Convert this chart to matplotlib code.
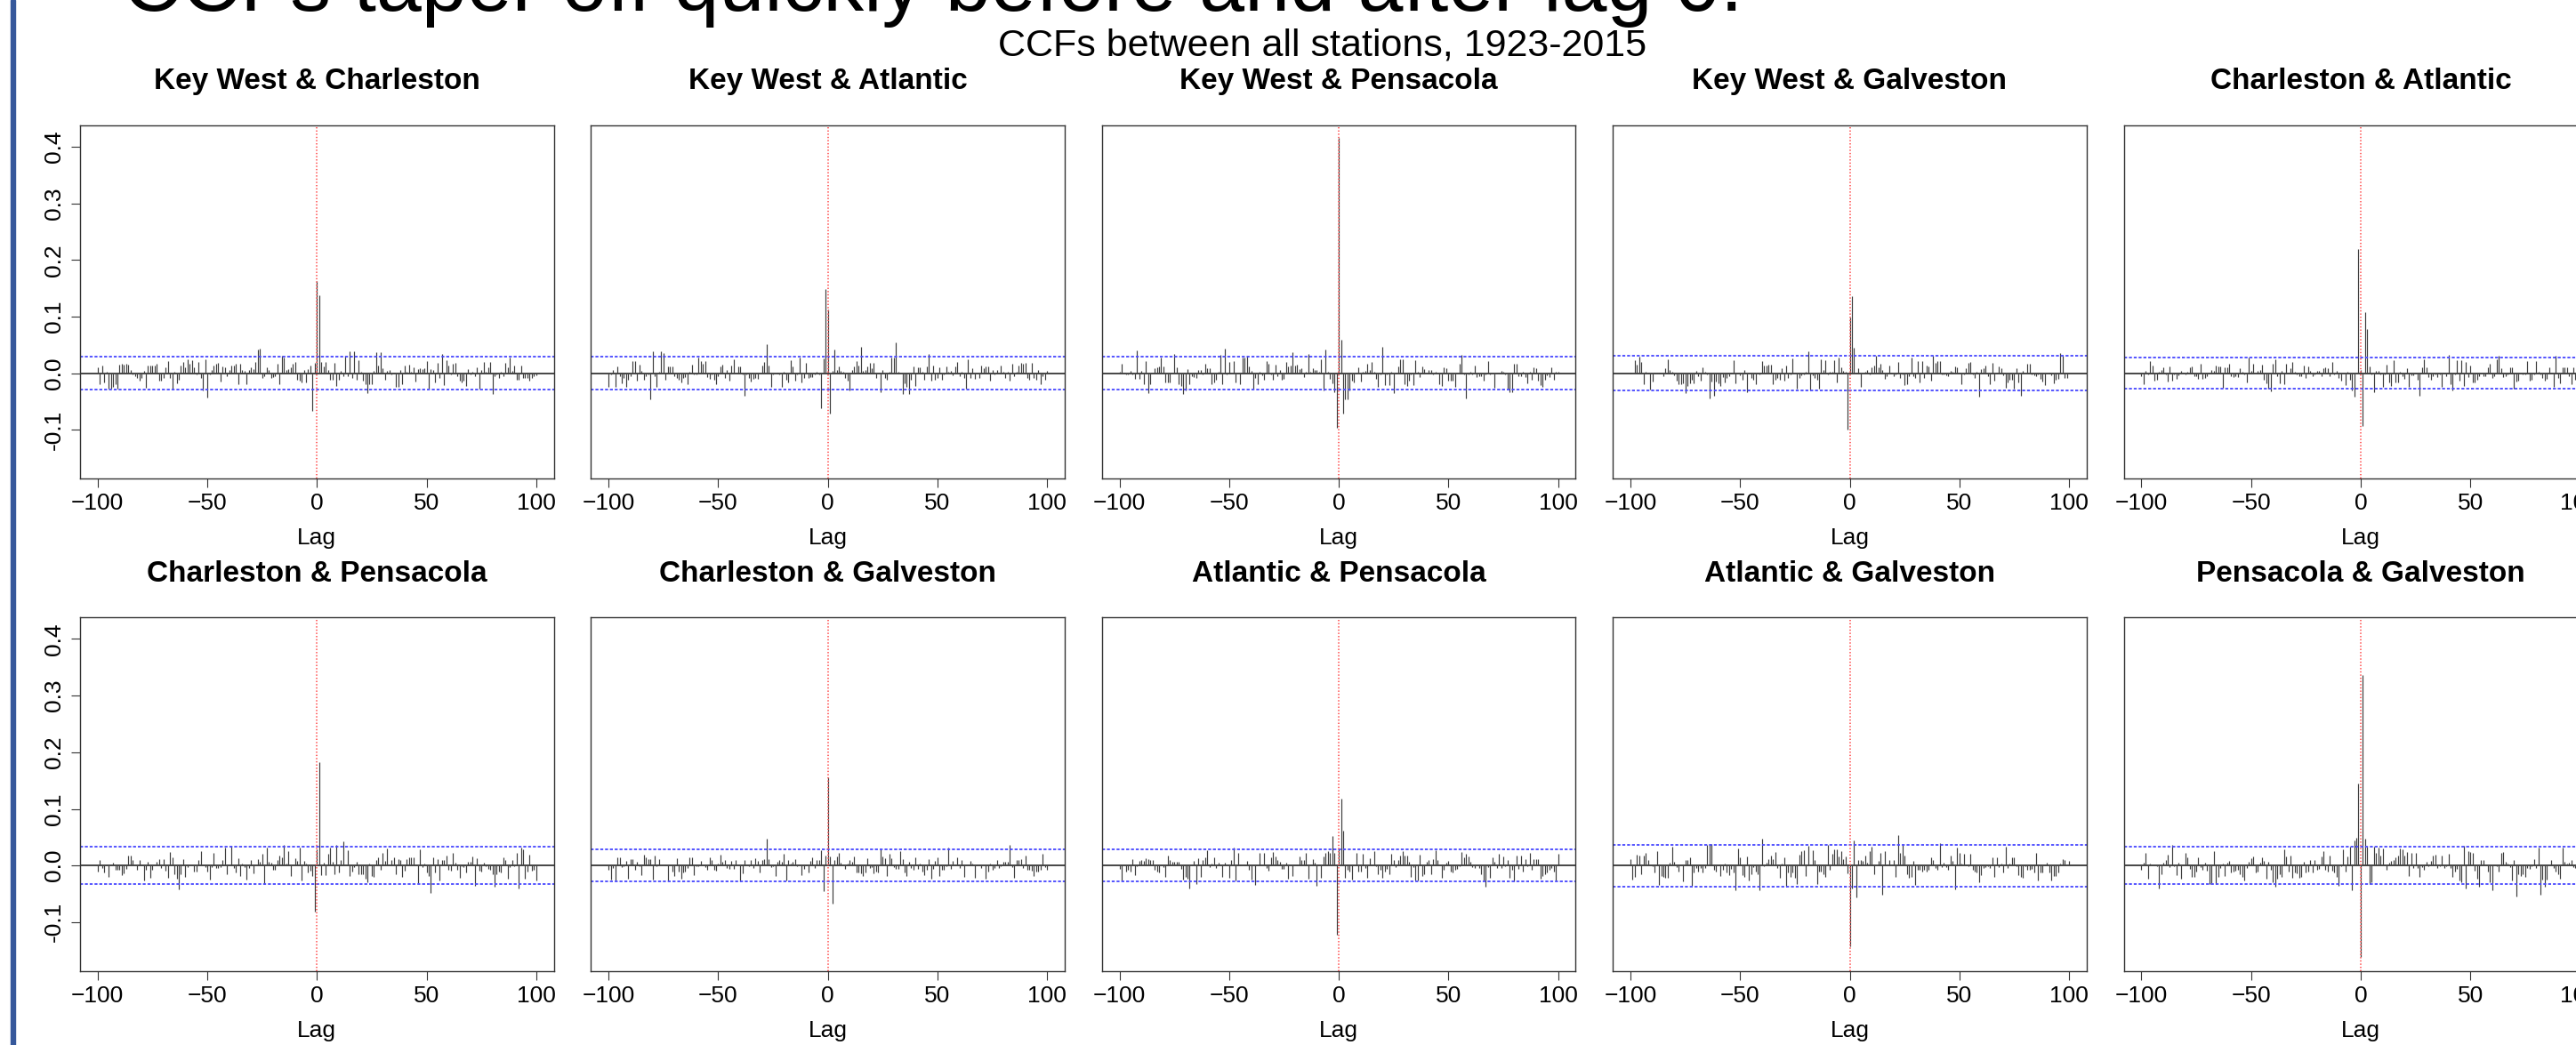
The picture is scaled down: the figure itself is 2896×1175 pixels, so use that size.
import numpy as np
import matplotlib
matplotlib.use('Agg')
from matplotlib import pyplot as plt
from matplotlib.patches import Rectangle

plt.rcParams['font.family'] = ['Liberation Sans', 'DejaVu Sans']
plt.rcParams['lines.scale_dashes'] = False

# lags -100..100, values in thousandths
lags = np.arange(-100, 101)

kw_charleston = [
    10, -19, 14, -17, 2, -27, -27, -24, -19, -27,
    15, 16, 15, 16, 15, 6, -3, -6, -8, -14,
    -8, 4, -26, 13, 14, 13, 13, 17, -14, -14,
    -8, 11, 22, -8, -28, 3, -18, -11, 14, 20,
    11, 24, 16, 23, 10, -3, 20, -8, -30, 24,
    -43, -3, 5, 13, 16, 18, -15, 12, 11, -5,
    6, 13, 14, 16, -20, 16, 5, 4, -19, 6,
    10, 7, 20, 42, 43, -8, -6, 11, 6, -8,
    -7, -5, 17, -20, 31, 27, 5, 7, 11, 16,
    20, -11, -14, -16, 5, -17, 7, 13, -67, 18,
    163,
    137, 20, 12, 20, 5, -11, -11, 18, -22, -11,
    4, -5, 30, -6, 39, -9, 39, -11, 23, 2,
    -14, -19, -36, -19, -20, 4, 37, 14, 37, 8,
    -11, 4, 5, -3, 1, -24, -24, 5, -20, 13,
    2, 15, 2, 10, -15, 7, 9, 7, 9, 21,
    -27, 7, 5, -16, 18, -8, 34, -21, 23, 13,
    -2, 16, 18, -6, -14, -16, -14, -22, 7, -3,
    2, -5, 11, -28, 6, 20, 2, 10, 19, -37,
    -5, -3, -8, 3, -6, 18, 10, 27, 4, 14,
    -11, -11, 14, -8, -9, -8, -14, -9, -5, -4]

kw_atlantic = [
    -24, -3, 6, -24, 12, -6, -18, -8, -25, -12,
    -6, 22, 22, -14, 15, 4, -12, -5, -2, -46,
    39, -6, -24, 2, 38, 35, -12, 12, 12, 12,
    -6, -8, -12, -16, -9, -7, -20, 3, 15, -3,
    -2, 28, 22, 17, 22, -7, -10, -2, -12, -20,
    -6, 12, 15, -8, 6, -14, 14, 24, 0, 12,
    12, -3, -40, -3, -9, -15, -10, -9, -10, -1,
    13, 20, 51, 14, -24, -3, -1, 1, -2, -24,
    2, -11, -17, 23, 12, -14, -2, 27, -17, -9,
    18, -9, -7, -7, -3, 2, -3, -62, 26, 148,
    113,
    -71, 4, 42, 6, 12, 4, 2, -8, -14, -31,
    6, 12, 22, 14, 46, 4, 6, 12, 18, 8,
    18, -9, -1, -33, 6, -8, -12, 2, 27, 27,
    55, 2, 0, -37, -18, -24, -37, -12, 12, -22,
    10, 10, 3, -12, 12, 34, -14, 13, -12, -8,
    10, -12, -2, 12, 2, 4, -4, 12, 19, -6,
    2, -8, -28, 24, -9, 9, -10, 0, -8, 14,
    8, 12, 12, -13, 5, -3, 6, -1, 13, 2,
    -9, 2, -14, 17, -6, 2, 14, 18, 17, 18,
    -8, -12, 18, -8, -12, 6, -20, -6, -12, 4]

kw_pensacola = [
    3, 16, 1, -2, -3, 4, -2, -10, 40, -10,
    4, -20, 21, -36, -20, 0, 8, 11, 12, 28,
    12, -17, -17, -16, 0, 34, 10, -20, -23, -37,
    -30, 7, -20, -5, -7, -9, 5, 5, -3, 17,
    9, 9, -20, -16, -12, 3, 32, -19, 43, -3,
    19, 0, 22, -17, 0, -20, 28, 28, 31, 12,
    4, -27, -8, -20, 2, -4, -12, 22, 16, -3,
    -12, 15, -5, 5, -12, -10, 19, 12, 14, 37,
    14, 15, 7, 9, -7, 2, 34, 2, 9, 6,
    5, 3, 25, -30, 41, 2, -10, -18, -33, -96,
    415,
    59, -71, -46, -46, -30, -14, -17, 1, 11, -15,
    3, 4, 16, 5, 19, 2, -10, -25, -3, 46,
    -21, -2, -21, 3, -36, 1, 12, 24, 24, -20,
    -23, -14, -2, -21, 23, 2, -7, 12, 7, 0,
    5, 5, -3, 2, 0, -19, -22, 10, 8, -14,
    -14, -13, -24, -1, 16, 32, -3, -45, -3, 3,
    -3, 13, -7, -5, -6, -14, -3, 21, -3, -1,
    -26, 0, -1, 4, 3, -3, -28, -33, -33, 17,
    16, -6, -5, 3, -7, -18, 3, -12, 11, 9,
    -13, -21, -24, -12, -4, -7, 10, -11, 2, 3]

kw_galveston = [
    1, 0, 23, 15, 29, 20, -20, 2, 1, -29,
    -15, 1, 1, 1, 0, -5, 9, 24, 6, 3,
    -4, -13, -19, -20, -18, -36, -23, -18, -12, -18,
    4, -5, -14, 11, 2, -2, -44, -15, -40, -15,
    -18, -22, -7, -17, -8, -5, 1, 23, -18, -1,
    -4, -12, 6, -34, -1, -8, -12, -19, -1, -2,
    22, 14, 14, 15, 15, -20, -12, -9, -12, 9,
    -13, 13, -8, -2, 26, -1, -28, -8, -4, -3,
    3, 39, -31, -4, -8, -12, -28, 24, 5, 23,
    -2, 3, 2, 23, -17, 28, 11, 4, 2, -100,
    98,
    136, 45, 1, 8, -25, 0, 3, 5, -2, 10,
    13, 30, 10, 17, 5, -10, -5, 14, 1, -5,
    -2, 19, -9, -2, -21, -19, -5, 28, -6, -9,
    21, -17, 22, -8, 14, 12, -14, 30, 18, 22,
    22, -2, -2, -4, -5, 4, 3, 12, 11, 1,
    -19, -3, 9, 18, 19, -3, -9, 3, -41, 7,
    9, 14, -6, -19, 18, -14, 1, 12, 9, -4,
    -26, -17, -12, -12, -28, 8, -16, -40, 4, -1,
    17, 17, -2, -4, -5, -3, -10, -15, -21, -1,
    1, -4, -18, -12, -10, 35, 31, -9, -9, 0]

ch_atlantic = [
    -6, -20, 4, -3, 22, 13, -14, -11, 2, 6,
    10, -3, -15, 12, -14, -3, -10, -4, 4, 1,
    -3, 3, 10, 12, -5, -6, -10, 16, -10, -9,
    -5, 1, 6, 4, 13, 12, 12, -26, 10, 10,
    16, -6, -7, -6, -7, 8, 2, -3, -17, 28,
    4, 16, 0, 4, 6, 15, -12, -18, -27, -32,
    16, 24, -6, -18, 4, -19, 17, 1, 8, 19,
    3, -3, -6, -5, 13, -9, 12, 4, -6, -2,
    4, 4, -6, 8, 10, 8, -6, 20, -3, 4,
    -8, -14, 0, -21, 3, -11, -30, -41, 0, 220,
    5,
    -94, 107, 78, 12, -2, -34, 4, 4, -2, -24,
    -3, 15, -16, -22, 23, -16, -16, 3, -5, -10,
    9, -25, -4, -4, 0, -12, -40, 11, 25, 10,
    -7, -12, -5, -3, -7, -3, -24, -1, -5, 32,
    -19, -30, -2, 23, -13, 23, -22, 20, -7, 14,
    -16, -16, -12, -5, -1, -6, -6, 10, 17, -8,
    -6, 25, 31, 8, -7, -6, -2, 10, 10, -27,
    -15, -13, 0, -2, -3, 21, -14, -11, -3, 21,
    3, -3, -9, -13, -10, 11, 1, -25, 31, -9,
    -18, 10, 10, 10, -5, -20, 10, -11, 5, 15]

ch_pensacola = [
    -10, 10, -5, -12, 2, -20, 2, 5, -7, -7,
    -7, -17, -14, -6, 17, 17, 10, 1, -8, 9,
    2, -26, -8, 7, -22, -7, 0, 6, 12, -4,
    11, -9, -22, 24, 15, -16, -23, -42, -15, 12,
    -20, -3, 0, 0, -10, -10, 10, 26, 1, -3,
    -10, -25, -3, 22, -4, -4, -3, 10, 31, -16,
    1, 35, -5, -13, 13, -18, 3, -3, -25, -4,
    10, -14, 0, 11, 6, 20, -32, 31, 6, 5,
    -8, -8, 9, 17, 15, 37, 3, 25, -19, 1,
    13, 8, 31, -27, 8, 3, -12, -9, -19, -81,
    28,
    183, -17, 5, -17, 20, 31, 7, -15, 37, -12,
    10, 42, 0, 27, -19, -10, -3, 6, -15, -16,
    -15, -24, -30, 4, -18, -20, 9, 15, -8, 23,
    8, 30, 2, 9, 14, -15, 12, 9, -20, -9,
    11, 14, 14, 14, 1, -31, 28, -3, 3, -12,
    -18, -48, 15, -12, 11, -27, 9, 9, 17, -7,
    -9, 22, 5, -8, -22, -1, -3, -12, 7, 7,
    16, -36, 13, -9, -10, 5, -2, -6, -7, -15,
    -37, -15, -10, -12, 15, 9, -24, -3, 9, -2,
    22, -40, 32, 29, -23, -11, 19, -9, -7, -27]

ch_galveston = [
    -8, -25, -5, -27, 15, 15, -3, -2, 8, -24,
    12, 11, -8, 7, -2, -17, 19, 14, 12, 12,
    -25, 17, -2, 12, 0, 0, 2, -27, 2, -10,
    -18, 13, -11, -24, -13, -10, -5, 15, 15, -17,
    -2, -2, 8, 0, -3, -7, 14, 9, -7, -9,
    3, 19, 6, 9, -5, -6, 8, -6, 9, 0,
    -28, -14, 10, 0, -2, 10, -4, 13, 8, -12,
    9, 12, 48, 12, -3, -2, -18, 6, 9, 6,
    20, -26, 9, 4, 7, 12, -2, 1, -17, -6,
    2, -12, 8, 15, -5, 9, 9, 27, -45, 18,
    155,
    16, -68, 10, 16, 22, 5, 1, -6, 3, 9,
    7, 16, -12, -12, -14, -18, -12, 13, -5, -3,
    -14, -10, -12, 29, 16, 13, -19, 21, 13, -3,
    -6, -6, 25, 12, -12, -18, 7, -4, -8, 14,
    -6, 3, -10, -17, -8, 12, -24, -6, 8, 15,
    -18, -8, -8, -2, 31, -6, 8, 2, 15, -4,
    9, -20, 0, 1, 8, 3, -22, 2, 2, -5,
    1, -23, -10, 3, -8, -4, 10, -5, -2, 7,
    6, 7, 36, -3, -22, 9, 10, 11, -5, 17,
    -7, -8, -9, -18, -10, -10, -8, 21, -3, -7]

at_pensacola = [
    -6, -27, 0, -10, -8, -10, 12, -17, -2, 8,
    9, 8, 13, 12, 9, 10, -7, -11, -12, 2,
    -3, -20, 18, 10, 7, 7, 7, 7, -6, -25,
    -20, -23, -40, 2, 8, -32, 13, -20, 9, 15,
    27, -3, 4, 14, -5, 5, 2, -20, 5, 0,
    -22, 9, 32, -27, 22, 2, 0, 2, 8, -7,
    -25, 0, -35, 2, 22, 1, 22, -4, -9, 15,
    24, 16, 10, 6, -6, -6, 5, -23, 0, -19,
    0, 2, 16, 9, 10, 23, -23, 0, 12, 5,
    -36, 0, -22, 16, 23, 26, 23, 52, 23, -122,
    30,
    118, 61, -21, -8, -10, -25, 0, 23, -10, -10,
    21, -4, -22, 13, 2, 25, -1, -15, -8, -22,
    -11, -6, -15, 21, 9, -3, 10, 18, 26, 18,
    17, 7, -20, -3, -27, -27, 19, -18, -15, 6,
    10, -16, 11, 27, 10, 1, -21, -7, 5, 8,
    -10, -12, -8, -6, -1, 24, 14, 20, 16, 6,
    -3, -5, 0, -4, -15, -27, -38, -3, -22, 15,
    7, -5, 21, -5, 16, -1, 9, -22, -8, -28,
    17, -6, 17, -11, 12, -1, 23, -7, 12, 12,
    12, -24, -18, -15, -12, -8, -5, -10, -27, 20]

at_galveston = [
    12, -25, -20, 19, 17, -15, 18, 23, 10, 0,
    -2, -12, 25, -35, -18, -20, -22, -22, 5, 33,
    6, -3, -10, 0, -28, 9, 9, 15, -36, -12,
    -5, -10, -5, -12, -5, 37, 38, 38, -8, -10,
    2, -18, -7, 3, -12, -17, -6, -12, -43, 30,
    15, -17, -20, 16, -26, -15, -3, -10, -15, -44,
    47, -2, 5, 12, 18, 11, 24, -4, -22, 4,
    15, -37, -12, -20, -13, -22, -33, 19, 25, 27,
    -19, 35, 2, 27, 10, -33, -10, -10, -15, -20,
    37, -8, 21, 28, 29, 16, 25, 12, 16, -14,
    -142,
    -40, 45, -57, 9, 9, 8, 17, 5, 25, 34,
    -15, 1, 8, 22, -52, 26, 0, 10, 0, 10,
    -20, 53, 22, 37, 18, -15, -22, -20, 8, -35,
    -8, -8, -10, -8, -10, -8, 15, 10, -5, -8,
    40, -3, 5, -3, -8, 17, 8, -42, 31, 22,
    3, 20, 2, -2, 20, -8, -10, -12, -30, -17,
    -5, -3, -2, -5, 14, -20, 14, -3, 3, -13,
    33, -5, 3, 14, 15, -2, -17, -20, -21, -2,
    -7, -7, -6, -12, 22, -27, -13, -12, 2, 5,
    -12, -27, -19, -18, -12, 4, 11, 10, 0, 8]

pe_galveston = [
    -8, 5, 23, -23, 4, 2, 2, -1, -40, -16,
    5, 10, 19, -3, 36, -1, -17, 5, -23, 2,
    22, 14, -6, -20, -20, -10, 14, -3, -8, 5,
    -9, -32, -32, 26, -32, -20, -4, 4, -18, 5,
    8, -12, -10, -9, -8, -15, -20, -27, -5, 6,
    13, 16, -12, -10, 5, 14, 8, -24, 6, -8,
    -30, -37, -23, -15, -20, 28, 16, -11, 17, -22,
    -12, -14, -22, -20, 7, -12, -11, 9, -12, 10,
    -7, -6, 16, 25, -7, -11, 18, -9, -13, -20,
    -36, -2, 29, -10, 16, 34, -43, 45, 49, 145,
    -162,
    336, 47, 33, -32, -30, 34, 22, 31, 18, 30,
    0, -8, 5, 8, 10, 14, 18, 30, 28, 18,
    24, -18, 22, -5, 22, -5, -20, -3, -7, 7,
    -2, 8, 17, 19, -4, -2, 17, -4, -1, 20,
    -5, -20, -10, -6, -27, -30, 35, -40, 25, 24,
    23, -9, -24, -38, 10, 10, 1, -10, -30, -43,
    0, -2, -10, 23, 24, 7, 3, -3, -27, 9,
    -55, -15, -18, -16, -20, -5, -6, -2, 11, -5,
    32, -51, -25, -38, -25, 0, 9, -5, -10, -15,
    -23, 32, 6, 3, 5, 9, -3, -5, -25, 39]

titles = ['Key West & Charleston', 'Key West & Atlantic', 'Key West & Pensacola',
          'Key West & Galveston', 'Charleston & Atlantic',
          'Charleston & Pensacola', 'Charleston & Galveston', 'Atlantic & Pensacola',
          'Atlantic & Galveston', 'Pensacola & Galveston']
series = [kw_charleston, kw_atlantic, kw_pensacola, kw_galveston, ch_atlantic,
          ch_pensacola, ch_galveston, at_pensacola, at_galveston, pe_galveston]
# 95% bounds drawn as blue dashed lines
ci_levels = [0.029, 0.029, 0.029, 0.030, 0.027,
             0.033, 0.028, 0.028, 0.037, 0.033]

W, H = 2896, 1175
fig = plt.figure(figsize=(W / 100, H / 100), dpi=100)

# slide border on the left
fig.add_artist(Rectangle((11.5 / W, 0), 5.5 / W, 1, transform=fig.transFigure,
                         color='#36589b', zorder=0))

fig.text(138 / W, 1 - 12 / H, 'CCFs taper off quickly before and after lag 0.',
         fontsize=66, va='baseline', ha='left')
fig.text(1487 / W, 1 - 62 / H, 'CCFs between all stations, 1923-2015',
         fontsize=31, va='baseline', ha='center')

ymin, ymax = -0.186, 0.438
px_per_lag = 2.465
col_step = 574.4
box_w = 216 * px_per_lag
row_bottom = [538.0, 1091.6]
box_h = 397.3

for i, (vals, title, ci) in enumerate(zip(series, titles, ci_levels)):
    assert len(vals) == 201, title
    r, c = divmod(i, 5)
    x0 = 356.3 + c * col_step - 108 * px_per_lag
    ax = fig.add_axes([x0 / W, 1 - row_bottom[r] / H, box_w / W, box_h / H])
    v = np.array(vals) / 1000

    ax.vlines(lags, 0, v, colors='#3c3c3c', linewidth=0.85)
    ax.axhline(0, color='#454545', lw=1.4)
    ax.axhline(ci, color='#4646ff', lw=1.3, ls=(0, (2.4, 1.5)))
    ax.axhline(-ci, color='#4646ff', lw=1.3, ls=(0, (2.4, 1.5)))
    ax.axvline(0, color='#ff5c5c', lw=1.3, ls=(0, (1.0, 1.6)))

    ax.set_xlim(-108, 108)
    ax.set_ylim(ymin, ymax)
    ax.set_xticks([-100, -50, 0, 50, 100])
    ax.tick_params(axis='x', length=7.5, width=0.8, labelsize=19, pad=4,
                   color='#333333')
    if c == 0:
        ax.set_yticks([-0.1, 0.0, 0.1, 0.2, 0.3, 0.4])
        ax.set_yticklabels(['-0.1', '0.0', '0.1', '0.2', '0.3', '0.4'],
                           rotation=90, va='center')
        ax.tick_params(axis='y', length=7.5, width=0.8, labelsize=19, pad=5,
                       color='#333333')
    else:
        ax.set_yticks([])
    for s in ax.spines.values():
        s.set_linewidth(1.0)
        s.set_color('#333333')
    ax.set_title(title, fontsize=24, fontweight='bold', pad=29)
    ax.set_xlabel('Lag', fontsize=19, labelpad=11)

fig.savefig('out.png', dpi=100)
